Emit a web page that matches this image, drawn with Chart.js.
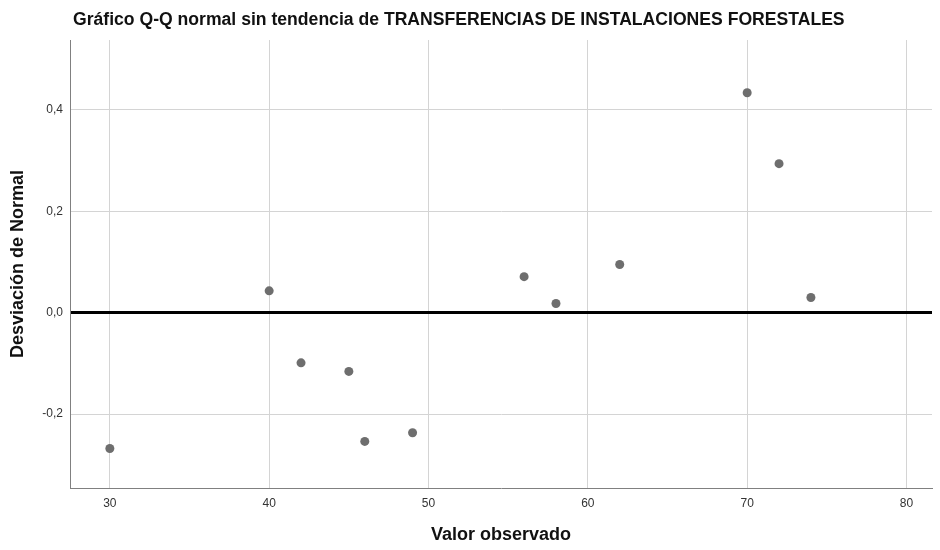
<!DOCTYPE html>
<html>
<head>
<meta charset="utf-8">
<script src="https://cdn.jsdelivr.net/npm/chart.js@4.4.1/dist/chart.umd.min.js"></script>
<style>
html,body{margin:0;padding:0;background:#fff;}
#wrap{width:940px;height:550px;position:relative;}
</style>
</head>
<body>
<div id="wrap"><canvas id="c" width="940" height="550"></canvas></div>
<script>
const chartTitle = "Gráfico Q-Q normal sin tendencia de TRANSFERENCIAS DE INSTALACIONES FORESTALES";
const xTitle = "Valor observado";
const yTitle = "Desviación de Normal";
const observed = [30, 40, 42, 45, 46, 49, 56, 58, 62, 70, 72, 74];
const deviation = [-0.268, 0.043, -0.099, -0.116, -0.254, -0.237, 0.071, 0.018, 0.095, 0.434, 0.294, 0.030];
const xTicks = [30, 40, 50, 60, 70, 80];
const yTicks = [-0.2, 0.0, 0.2, 0.4];

const points = observed.map((x, i) => ({x: x, y: deviation[i]}));

const titlePlugin = {
  id: 'topTitle',
  afterDraw(chart) {
    const ctx = chart.ctx;
    ctx.save();
    ctx.font = 'bold 17.6px "Liberation Sans", Arial, sans-serif';
    ctx.fillStyle = '#111';
    ctx.textBaseline = 'middle';
    ctx.textAlign = 'left';
    ctx.fillText(chartTitle, 73, 20);
    ctx.restore();
  }
};

const fmt = v => (Math.round(v * 10) / 10).toFixed(1).replace('.', ',');

new Chart(document.getElementById('c'), {
  type: 'scatter',
  data: {
    datasets: [{
      data: points,
      backgroundColor: '#6e6e6e',
      borderColor: '#6e6e6e',
      pointRadius: 4.5,
      pointHoverRadius: 4.5,
      borderWidth: 0
    }]
  },
  options: {
    responsive: false,
    animation: false,
    devicePixelRatio: 1,
    layout: {padding: {top: 40, right: 8, left: 0, bottom: 0}},
    plugins: {legend: {display: false}, tooltip: {enabled: false}, title: {display: false}},
    scales: {
      x: {
        type: 'linear',
        min: 27.5,
        max: 81.6,
        afterBuildTicks: s => { s.ticks = xTicks.map(v => ({value: v})); },
        afterFit: s => { s.height = 62; },
        border: {color: '#808080', width: 1},
        grid: {color: '#d4d4d4', lineWidth: 1, drawTicks: false},
        ticks: {color: '#333', padding: 8, font: {family: '"Liberation Sans", Arial, sans-serif', size: 12}, maxRotation: 0, autoSkip: false},
        title: {display: true, text: xTitle, color: '#111', padding: {top: 0, bottom: 4}, font: {family: '"Liberation Sans", Arial, sans-serif', size: 18, weight: 'bold'}}
      },
      y: {
        type: 'linear',
        min: -0.346,
        max: 0.538,
        afterBuildTicks: s => { s.ticks = yTicks.map(v => ({value: v})); },
        afterFit: s => { s.width = 70; },
        border: {color: '#808080', width: 1},
        grid: {
          drawTicks: false,
          color: c => (c.tick && Math.abs(c.tick.value) < 1e-9) ? '#000' : '#d4d4d4',
          lineWidth: c => (c.tick && Math.abs(c.tick.value) < 1e-9) ? 3 : 1
        },
        ticks: {color: '#333', padding: 7, callback: v => fmt(v), font: {family: '"Liberation Sans", Arial, sans-serif', size: 12}, autoSkip: false},
        title: {display: true, text: yTitle, color: '#111', padding: {top: 7, bottom: 0}, font: {family: '"Liberation Sans", Arial, sans-serif', size: 18, weight: 'bold'}}
      }
    }
  },
  plugins: [titlePlugin]
});
</script>
</body>
</html>
